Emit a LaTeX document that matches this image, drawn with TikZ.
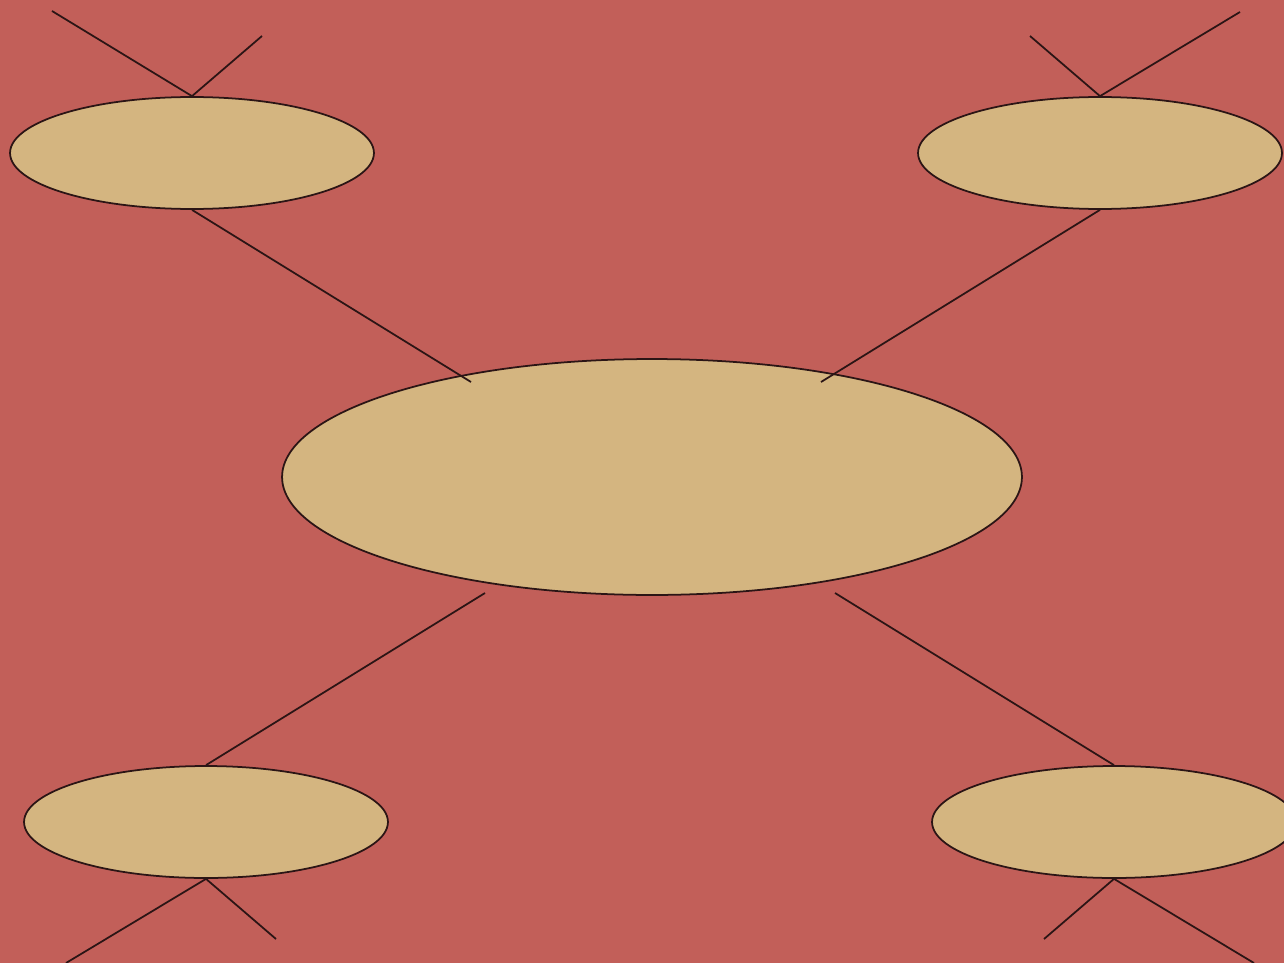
\documentclass[tikz,border=0pt]{standalone}
\usepackage{tikz}
\usetikzlibrary{shapes.geometric}
\definecolor{bgred}{HTML}{C25F59}
\definecolor{tan}{HTML}{D4B580}
\definecolor{edge}{HTML}{2B1515}
\tikzset{
  hub/.style = {draw=edge, fill=tan, line width=1pt, ellipse, minimum width=14.8cm, minimum height=4.72cm, inner sep=0pt},
  leaf/.style = {draw=edge, fill=tan, line width=1pt, ellipse, minimum width=7.28cm, minimum height=2.24cm, inner sep=0pt},
  link/.style = {draw=edge, line width=1pt}
}
\begin{document}
\begin{tikzpicture}[x=0.02cm, y=-0.02cm]
            \fill[bgred] (0,0) rectangle (1284,963);
            \useasboundingbox (0,0) rectangle (1284,963);
            \node[hub] (c) at (652,477) {};
            \node[leaf] (tl) at (192,153) {};
            \node[leaf] (tr) at (1100,153) {};
            \node[leaf] (bl) at (206,822) {};
            \node[leaf] (br) at (1114,822) {};
            % free ends
            \coordinate (tla) at (52,11);
            \coordinate (tlb) at (262,36);
            \coordinate (tra) at (1240,12);
            \coordinate (trb) at (1030,36);
            \coordinate (bla) at (66,963);
            \coordinate (blb) at (276,939);
            \coordinate (bra) at (1254,963);
            \coordinate (brb) at (1044,939);
            \coordinate (cnw) at (471,382);
            \coordinate (cne) at (821,382);
            \coordinate (csw) at (485,593);
            \coordinate (cse) at (835,593);
            \draw[link] (tla) -- (tl.north) -- (tlb);
            \draw[link] (tra) -- (tr.north) -- (trb);
            \draw[link] (bla) -- (bl.south) -- (blb);
            \draw[link] (bra) -- (br.south) -- (brb);
            \draw[link] (tl.south) -- (cnw);
            \draw[link] (tr.south) -- (cne);
            \draw[link] (bl.north) -- (csw);
            \draw[link] (br.north) -- (cse);
        \end{tikzpicture}
\end{document}
